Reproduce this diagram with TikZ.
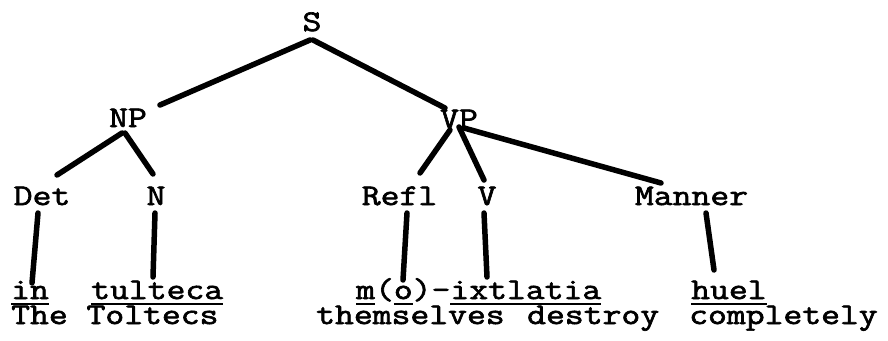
\documentclass[tikz,border=0pt]{standalone}
\usepackage{fontspec}
\usetikzlibrary{calc}
\newfontfamily\tw{Latin Modern Mono}[FakeStretch=1.22,FakeBold=2.2]
\newcommand\myul[1]{\setbox0\hbox{#1}\rlap{\smash{\rule[-5.5pt]{\wd0}{2pt}}}\box0}
\begin{document}
\begin{tikzpicture}[x=1pt,y=-1pt,
  tt/.style={inner sep=0pt,text height=18pt,text depth=4pt,font=\tw\fontsize{30}{32}\selectfont},
  lbl/.style={tt,anchor=base},
  wrd/.style={tt,anchor=base west},
  branch/.style={line width=5.5pt,line cap=round}]
\useasboundingbox (0,0) rectangle (888,340);
% category labels
\node[lbl] (S) at (312,31) {S};
\node[lbl] (NP) at (128,127) {NP};
\node[lbl] (VP) at (459,128) {VP};
\node[lbl] (Det) at (42,205) {Det};
\node[lbl] (N) at (156,205) {N};
\node[lbl] (Refl) at (399.5,205) {Refl};
\node[lbl] (V) at (487,205) {V};
\node[lbl] (Manner) at (691.5,205) {Manner};
% words
\node[wrd] (in) at (11,299) {\myul{in}};
\node[wrd] (tulteca) at (91,299) {\myul{tulteca}};
\node[wrd] (mo) at (356,299) {\myul{m}(\myul{o})-\myul{ixtlatia}};
\node[wrd] (huel) at (691,299) {\myul{huel}};
\node[wrd] (gl1) at (11,324) {The Toltecs};
\node[wrd] (gl2) at (316,324) {themselves};
\node[wrd] (gl3) at (527,324) {destroy};
\node[wrd] (gl4) at (689,324) {completely};
% branches
\draw[branch] ($(S.base)+(-2,9)$) -- ($(NP.base)+(32,-22)$);
\draw[branch] ($(S.base)+(1,9)$) -- ($(VP.base)+(-14,-20)$);
\draw[branch] ($(NP.base)+(-6,6)$) -- ($(Det.base)+(15,-30)$);
\draw[branch] ($(NP.base)+(-3,6)$) -- ($(N.base)+(-3,-31)$);
\draw[branch] ($(VP.base)+(-9,2)$) -- ($(Refl.base)+(20.5,-32)$);
\draw[branch] ($(VP.base)+(0,-1)$) -- ($(V.base)+(-3,-25)$);
\draw[branch] ($(VP.base)+(5,0)$) -- ($(Manner.base)+(-30.5,-22)$);
\draw[branch] ($(Det.base)+(-4,8)$) -- ($(in.base west)+(21,-16)$);
\draw[branch] ($(N.base)+(-1,8)$) -- ($(tulteca.base west)+(62,-22)$);
\draw[branch] ($(Refl.base)+(7.5,8)$) -- ($(mo.base west)+(47,-19)$);
\draw[branch] ($(V.base)+(-3,8)$) -- ($(mo.base west)+(131,-22)$);
\draw[branch] ($(Manner.base)+(14.5,8)$) -- ($(huel.base west)+(23,-29)$);
\end{tikzpicture}
\end{document}
